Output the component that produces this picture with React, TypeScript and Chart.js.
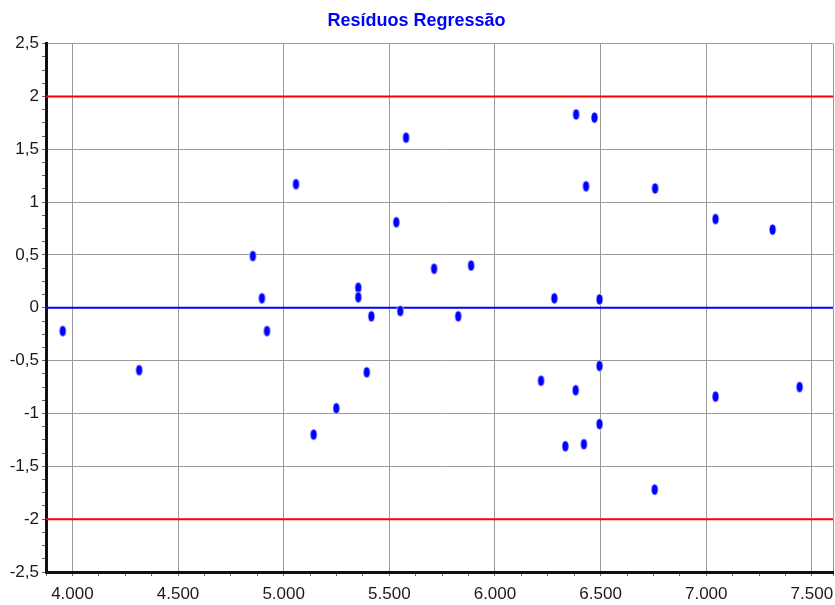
import React, { useEffect, useRef } from "react";
import { Chart, registerables } from "chart.js";

Chart.register(...registerables);

const chartTitle = "Resíduos Regressão";

const xValues = [
  3954, 4316, 4854, 4897, 4921, 5058, 5142, 5249, 5353, 5353, 5393, 5415,
  5533, 5552, 5579, 5712, 5826, 5887, 6218, 6281, 6333, 6382, 6384, 6421,
  6431, 6471, 6495, 6495, 6495, 6756, 6758, 7044, 7044, 7314, 7442,
];
const yValues = [
  -0.22, -0.59, 0.49, 0.09, -0.22, 1.17, -1.2, -0.95, 0.19, 0.1, -0.61, -0.08,
  0.81, -0.03, 1.61, 0.37, -0.08, 0.4, -0.69, 0.09, -1.31, -0.78, 1.83, -1.29,
  1.15, 1.8, 0.08, -0.55, -1.1, -1.72, 1.13, 0.84, -0.84, 0.74, -0.75,
];

const xMin = 3875;
const xMax = 7600;
const yMin = -2.5;
const yMax = 2.5;
const xMajorStep = 500;
const xMinorStep = 125;
const yMajorStep = 0.5;
const yMinorStep = 0.125;
const limitValues = [2, -2];
const zeroValue = 0;

function fmtX(v: number): string {
  const s = Math.round(v).toString();
  return s.replace(/\B(?=(\d{3})+(?!\d))/g, ".");
}
function fmtY(v: number): string {
  return String(Math.round(v * 1000) / 1000).replace(".", ",");
}
function isMult(v: number, step: number): boolean {
  const r = v / step;
  return Math.abs(r - Math.round(r)) < 1e-6;
}
function buildTicks(min: number, max: number, step: number) {
  const out: { value: number }[] = [];
  const n = Math.floor((max - min) / step + 1e-9);
  for (let i = 0; i <= n; i++) out.push({ value: Math.round((min + i * step) * 1000) / 1000 });
  if (Math.abs(out[out.length - 1].value - max) > 1e-9) out.push({ value: max });
  return out;
}

function makeMarker(): HTMLCanvasElement {
  const c = document.createElement("canvas");
  c.width = 9;
  c.height = 13;
  const ctx = c.getContext("2d")!;
  ctx.beginPath();
  ctx.ellipse(4.5, 6.5, 3.5, 5.6, 0, 0, Math.PI * 2);
  ctx.fillStyle = "#0000ff";
  ctx.fill();
  ctx.lineWidth = 0.8;
  ctx.strokeStyle = "rgba(255,255,255,0.9)";
  ctx.stroke();
  return c;
}

export default function App() {
  const ref = useRef<HTMLCanvasElement | null>(null);

  useEffect(() => {
    if (!ref.current) return;
    const marker = makeMarker();
    const points = xValues.map((x, i) => ({ x, y: yValues[i] }));
    const chart = new Chart(ref.current, {
      type: "scatter",
      data: {
        datasets: [
          {
            type: "scatter",
            data: points,
            pointStyle: marker as any,
            pointRadius: 5,
            backgroundColor: "#0000ff",
            borderColor: "#0000ff",
          },
          {
            type: "line",
            data: [
              { x: xMin, y: zeroValue },
              { x: xMax, y: zeroValue },
            ],
            borderColor: "#0000ff",
            borderWidth: 2,
            pointRadius: 0,
          },
          ...limitValues.map((v) => ({
            type: "line" as const,
            data: [
              { x: xMin, y: v },
              { x: xMax, y: v },
            ],
            borderColor: "#ff0000",
            borderWidth: 2,
            pointRadius: 0,
          })),
        ],
      } as any,
      options: {
        animation: false,
        responsive: false,
        devicePixelRatio: 1,
        layout: { autoPadding: false, padding: { left: 0, right: 2, top: 0, bottom: 0 } },
        plugins: {
          legend: { display: false },
          tooltip: { enabled: false },
          title: {
            display: true,
            text: chartTitle,
            color: "#0000ff",
            font: { family: "Arial, 'Liberation Sans'", size: 18, weight: "bold" },
            padding: { top: 10, bottom: 12 },
          },
        },
        scales: {
          x: {
            type: "linear",
            min: xMin,
            max: xMax,
            afterBuildTicks: (s: any) => {
              s.ticks = buildTicks(xMin, xMax, xMinorStep);
            },
            afterFit: (s: any) => {
              s.height = 33;
              s.paddingRight = 0;
              s.paddingLeft = 0;
            },
            border: { color: "#111", width: 3 },
            grid: {
              color: (ctx: any) =>
                ctx.tick && (isMult(ctx.tick.value, xMajorStep) || ctx.tick.value === xMax)
                  ? "#9a9a9a"
                  : "rgba(0,0,0,0)",
              tickColor: "#666",
              tickLength: 4,
              lineWidth: 1,
            },
            ticks: {
              autoSkip: false,
              maxRotation: 0,
              minRotation: 0,
              padding: 8,
              color: "#1a1a1a",
              font: { family: "Arial, 'Liberation Sans'", size: 17 },
              callback: (v: any) => (isMult(Number(v), xMajorStep) ? fmtX(Number(v)) : ""),
            },
          },
          y: {
            type: "linear",
            min: yMin,
            max: yMax,
            afterBuildTicks: (s: any) => {
              s.ticks = buildTicks(yMin, yMax, yMinorStep);
            },
            afterFit: (s: any) => {
              s.width = 46;
            },
            border: { color: "#111", width: 3 },
            grid: {
              color: (ctx: any) =>
                ctx.tick && isMult(ctx.tick.value, yMajorStep) ? "#9a9a9a" : "rgba(0,0,0,0)",
              tickColor: "#666",
              tickLength: 4,
              lineWidth: 1,
            },
            ticks: {
              autoSkip: false,
              padding: 3,
              color: "#1a1a1a",
              font: { family: "Arial, 'Liberation Sans'", size: 17 },
              callback: (v: any) => (isMult(Number(v), yMajorStep) ? fmtY(Number(v)) : ""),
            },
          },
        },
      },
    });
    return () => chart.destroy();
  }, []);

  return (
    <div style={{ position: "fixed", left: 0, top: 0, width: 835, height: 605, background: "#fff" }}>
      <canvas ref={ref} width={835} height={605} />
    </div>
  );
}
